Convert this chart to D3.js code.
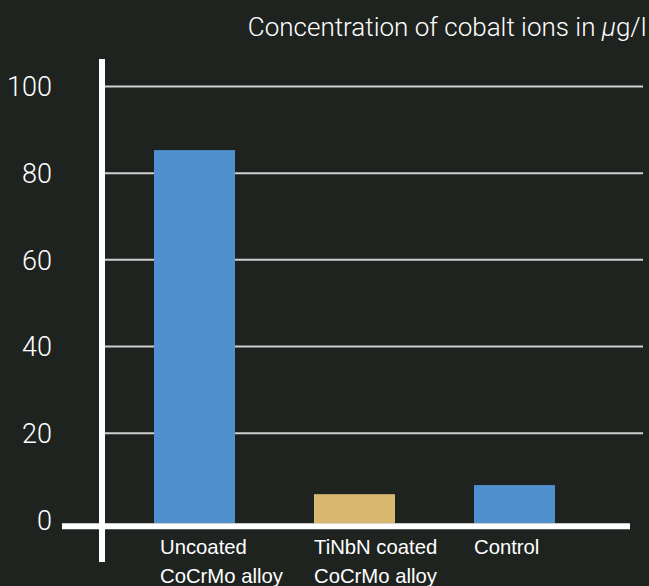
<!DOCTYPE html>
<html>
<head>
<meta charset="utf-8">
<script src="https://cdn.jsdelivr.net/npm/d3@7"></script>
<style>
  html, body { margin: 0; padding: 0; background: #1f2320; }
  svg { display: block; }
</style>
</head>
<body>
<svg id="chart" width="649" height="586"></svg>
<script>
const categories = ["Uncoated\nCoCrMo alloy", "TiNbN coated\nCoCrMo alloy", "Control"];
const values = [85.2, 5.8, 7.9];
const barColors = ["#5190cf", "#d8b76e", "#5190cf"];
const yTicks = [0, 20, 40, 60, 80, 100];
const title = "Concentration of cobalt ions in ";

const svg = d3.select("#chart");
const W = 649, H = 586;
svg.append("rect").attr("width", W).attr("height", H).attr("fill", "#1f2320");

const y = d3.scaleLinear().domain([0, 100]).range([519.3, 86]);
const x = d3.scaleBand().domain(categories).range([114.5, 594.5])
  .paddingInner(0.49375).paddingOuter(0.246875);

const axisY = 526.3;   // baseline axis line centre
const axisX = 102;     // vertical axis line centre

// gridlines
const grid = d3.axisRight(y).tickValues(yTicks.filter(d => d > 0)).tickSize(538).tickFormat("");
svg.append("g").attr("transform", `translate(${axisX + 3},0)`).call(grid)
  .call(g => g.select(".domain").remove())
  .call(g => g.selectAll("line").attr("stroke", "#cfd0cf").attr("stroke-width", 2));

// bars
svg.append("g").selectAll("rect").data(values).join("rect")
  .attr("x", (d, i) => x(categories[i]))
  .attr("width", x.bandwidth())
  .attr("y", d => y(d))
  .attr("height", d => axisY - 3 - y(d))
  .attr("fill", (d, i) => barColors[i]);

// y tick labels
const yAxis = d3.axisLeft(y).tickValues(yTicks).tickSize(0).tickPadding(0);
svg.append("g").attr("transform", "translate(52,0)").call(yAxis)
  .call(g => g.select(".domain").remove())
  .call(g => g.selectAll("text")
    .attr("fill", "#ffffff")
    .attr("font-family", "Roboto, 'Liberation Sans', sans-serif")
    .attr("font-weight", 300)
    .attr("font-size", 27)
    .attr("dy", "0.36em"));

// axis lines
svg.append("line").attr("x1", 62).attr("x2", 630).attr("y1", axisY).attr("y2", axisY)
  .attr("stroke", "#ffffff").attr("stroke-width", 6);
svg.append("line").attr("x1", axisX).attr("x2", axisX).attr("y1", 59).attr("y2", 562)
  .attr("stroke", "#ffffff").attr("stroke-width", 6);

// category labels
const lab = svg.append("g").selectAll("text").data(categories).join("text")
  .attr("x", d => x(d) + (d.startsWith("Uncoated") ? 6 : 0))
  .attr("y", 553.5)
  .attr("fill", "#ffffff")
  .attr("font-family", "'Liberation Sans', Arial, sans-serif")
  .attr("font-size", 20.3);
lab.each(function(d) {
  const t = d3.select(this);
  d.split("\n").forEach((line, i) => {
    t.append("tspan").attr("x", t.attr("x")).attr("dy", i === 0 ? 0 : 29.3).text(line);
  });
});

// title
const tt = svg.append("text").attr("x", 646.5).attr("y", 36).attr("text-anchor", "end")
  .attr("fill", "#ffffff")
  .attr("font-family", "Roboto, 'Liberation Sans', sans-serif")
  .attr("font-weight", 300)
  .attr("font-size", 26);
tt.append("tspan").text(title);
tt.append("tspan").attr("font-style", "italic").text("μ");
tt.append("tspan").text("g/l");
</script>
</body>
</html>
